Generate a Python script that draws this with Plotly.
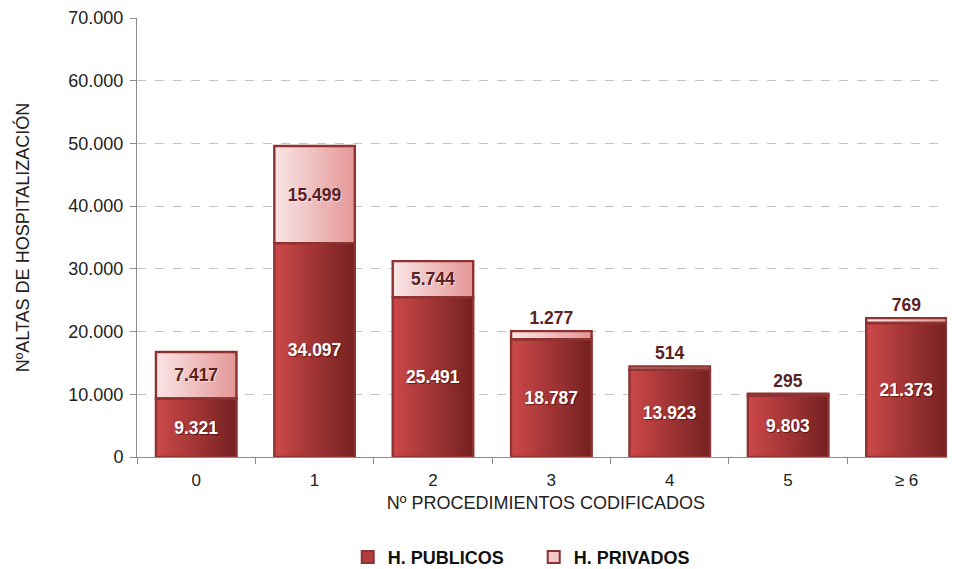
import plotly.graph_objects as go

categories = ["0", "1", "2", "3", "4", "5", "≥ 6"]
publicos = [9321, 34097, 25491, 18787, 13923, 9803, 21373]
privados = [7417, 15499, 5744, 1277, 514, 295, 769]
priv_text_pos = ["inside", "inside", "inside", "outside", "outside", "outside", "outside"]
y_ticks = [0, 10000, 20000, 30000, 40000, 50000, 60000, 70000]

FONT = "Liberation Sans, Arial, sans-serif"
BAR_W = 0.68
N_STRIPS = 27
BORDER = "#8e3232"


def fmt(v):
    return f"{v:,}".replace(",", ".")


def lerp(c1, c2, t):
    return "rgb(%d,%d,%d)" % tuple(round(a + (b - a) * t) for a, b in zip(c1, c2))


pub_l, pub_r = (204, 72, 72), (118, 34, 34)
prv_l, prv_r = (250, 228, 228), (228, 152, 152)

fig = go.Figure()
sw = BAR_W / N_STRIPS
for i in range(N_STRIPS):
    t = i / (N_STRIPS - 1)
    off = -BAR_W / 2 + i * sw
    c = lerp(pub_l, pub_r, t)
    fig.add_trace(go.Bar(x=categories, y=publicos, base=[0] * len(publicos), width=sw * 1.3, offset=off,
                         marker=dict(color=c, line=dict(width=0)),
                         showlegend=False, hoverinfo="skip"))
    c2 = lerp(prv_l, prv_r, t)
    fig.add_trace(go.Bar(x=categories, y=privados, base=publicos, width=sw * 1.3, offset=off,
                         marker=dict(color=c2, line=dict(width=0)),
                         showlegend=False, hoverinfo="skip"))

# outlines with labels
fig.add_trace(go.Bar(x=categories, y=publicos, base=[0] * len(publicos), width=BAR_W, offset=-BAR_W / 2,
                     marker=dict(color="rgba(0,0,0,0)", line=dict(color=BORDER, width=2.4)),
                     text=[fmt(v) for v in publicos], textposition="inside", insidetextanchor="middle",
                     constraintext="none", textangle=0,
                     textfont=dict(family=FONT, size=17.5, color="white", weight="bold",
                                   shadow="1px 1px 1px rgba(60,0,0,0.6)"),
                     showlegend=False, hoverinfo="skip"))
fig.add_trace(go.Bar(x=categories, y=privados, base=publicos, width=BAR_W, offset=-BAR_W / 2,
                     marker=dict(color="rgba(0,0,0,0)", line=dict(color=BORDER, width=2.4)),
                     text=[fmt(v) for v in privados], textposition=priv_text_pos, insidetextanchor="middle",
                     constraintext="none", textangle=0, cliponaxis=False,
                     textfont=dict(family=FONT, size=17.5, color="#5a2222", weight="bold",
                                   shadow="1px 1px 1px rgba(255,255,255,0.6)"),
                     showlegend=False, hoverinfo="skip"))

# legend entries
fig.add_trace(go.Bar(x=[categories[0]], y=[None], name="H. PUBLICOS",
                     marker=dict(color="#b03c3c", line=dict(color=BORDER, width=2))))
fig.add_trace(go.Bar(x=[categories[0]], y=[None], name="H. PRIVADOS",
                     marker=dict(color="#f2c8c8", line=dict(color=BORDER, width=2))))

# the page body adds an 8px offset, so the figure is sized/placed to compensate
fig.update_layout(
    width=947, height=561,
    margin=dict(l=129, r=0, t=10, b=112),
    barmode="overlay",
    separators=",.",
    plot_bgcolor="white", paper_bgcolor="white",
    font=dict(family=FONT, size=18, color="#222"),
    showlegend=True,
    legend=dict(orientation="h", x=0.485, xanchor="center", xref="paper",
                y=0.021, yanchor="middle", yref="container",
                font=dict(family=FONT, size=18, color="#111", weight="bold"),
                traceorder="normal", itemsizing="constant", entrywidth=141),
    xaxis=dict(type="category", range=[-0.5, 6.41], showgrid=False, automargin=False,
               showline=True, linecolor="#8c8c8c", linewidth=1,
               ticks="outside", tickson="boundaries", ticklen=6, tickcolor="#8c8c8c",
               ticklabelstandoff=8,
               tickfont=dict(size=17, color="#222"),
               title=dict(text="Nº PROCEDIMIENTOS CODIFICADOS", font=dict(size=18, color="#222"), standoff=6)),
    yaxis=dict(range=[0, 70000], tickvals=y_ticks, tickformat=",d", automargin=False,
               showgrid=True, gridcolor="#c4c4c4", griddash="dash", gridwidth=1,
               showline=True, linecolor="#8c8c8c", linewidth=1,
               ticks="outside", ticklen=6, tickcolor="#8c8c8c", ticklabelstandoff=3,
               tickfont=dict(size=18, color="#222"), zeroline=False,
               title=dict(text="NºALTAS DE HOSPITALIZACIÓN", font=dict(size=18, color="#222"), standoff=34)),
)

fig.write_html("out.html")
